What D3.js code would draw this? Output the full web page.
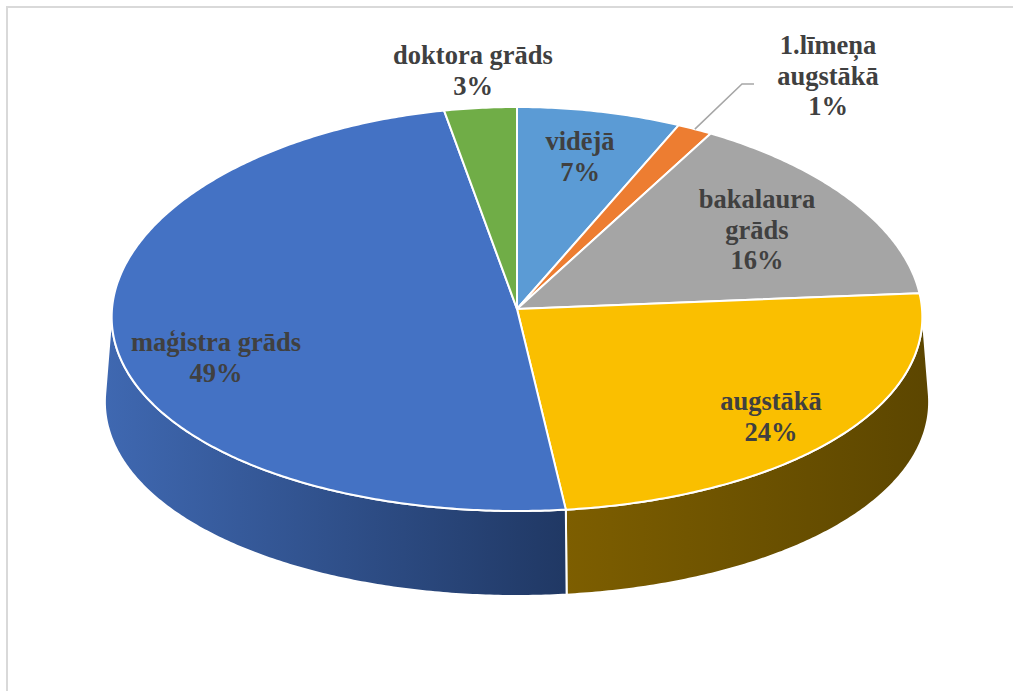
<!DOCTYPE html>
<html>
<head>
<meta charset="utf-8">
<script src="https://cdn.jsdelivr.net/npm/d3@7"></script>
<style>
  html, body { margin: 0; padding: 0; background: #fff; }
  svg { display: block; }
  .lab { font-family: "Liberation Serif", "DejaVu Serif", "Times New Roman", Tinos, serif; font-weight: 700; font-size: 26.5px; fill: #404040; }
</style>
</head>
<body>
<svg id="chart" width="1013" height="691"></svg>
<script>
// ---- data ----
const categories = ["vidējā", "1.līmeņa augstākā", "bakalaura grāds", "augstākā", "maģistra grāds", "doktora grāds"];
const labelLines = [["vidējā"], ["1.līmeņa", "augstākā"], ["bakalaura", "grāds"], ["augstākā"], ["maģistra grāds"], ["doktora grāds"]];
const shares = [6.8, 1.45, 15.5, 24.4, 48.85, 3];

// ---- style / layout ----
const topColors = ["#5B9BD5", "#ED7D31", "#A5A5A5", "#FABF00", "#4472C4", "#70AD47"];
const sideColors = [
  ["#4a80b4", "#2e5a86"], ["#b55f24", "#8a4717"], ["#888888", "#666666"],
  ["#7d5e00", "#5c4600"], ["#3f68b1", "#203864"], ["#5a8c39", "#3d6126"]
];
const labelLayout = [
  { x: 580, y: 150 }, { x: 828, y: 54 }, { x: 757, y: 208 },
  { x: 771, y: 410 }, { x: 216, y: 351 }, { x: 473, y: 64 }
];
const lineHeight = 30.5;
const cx = 517, cy = 309, rx = 405, ry = 202, depth = 85, persp = 0.04;

const svg = d3.select("#chart");

// frame
svg.append("rect").attr("x", 7).attr("y", 7).attr("width", 1030).attr("height", 720)
  .attr("fill", "none").attr("stroke", "#d9d9d9").attr("stroke-width", 2);

const pie = d3.pie().sort(null).value(d => d).startAngle(0).endAngle(2 * Math.PI);
const arcs = pie(shares);

function P(theta, f, z) {
  const ex = rx * f * Math.sin(theta);
  const ey = -ry * f * Math.cos(theta);
  const s = 1 + persp * (ey + z) / ry;
  return [cx + ex * s, cy + ey + z];
}
function arcPts(a0, a1, f, z) {
  const n = Math.max(2, Math.ceil((a1 - a0) / 0.01));
  return d3.range(n + 1).map(i => P(a0 + (a1 - a0) * i / n, f, z));
}
const line = d3.line();
const defs = svg.append("defs");

// side walls (front half only)
const gSide = svg.append("g");
arcs.forEach((a, i) => {
  const s0 = Math.max(a.startAngle, Math.PI / 2);
  const s1 = Math.min(a.endAngle, 3 * Math.PI / 2);
  if (s1 <= s0) return;
  const pts = arcPts(s0, s1, 1, 0).concat(arcPts(s0, s1, 1, depth).reverse());
  const xs = pts.map(p => p[0]);
  const gid = "side" + i;
  const grad = defs.append("linearGradient").attr("id", gid)
    .attr("gradientUnits", "userSpaceOnUse")
    .attr("x1", d3.min(xs)).attr("x2", d3.max(xs)).attr("y1", 0).attr("y2", 0);
  grad.append("stop").attr("offset", 0).attr("stop-color", sideColors[i][0]);
  grad.append("stop").attr("offset", 1).attr("stop-color", sideColors[i][1]);
  gSide.append("path")
    .attr("d", line(pts) + "Z")
    .attr("fill", `url(#${gid})`)
    .attr("stroke", "#fff").attr("stroke-width", 2).attr("stroke-linejoin", "round");
});

// top faces
const gTop = svg.append("g");
arcs.forEach((a, i) => {
  const pts = [[cx, cy]].concat(arcPts(a.startAngle, a.endAngle, 1, 0));
  gTop.append("path")
    .attr("d", line(pts) + "Z")
    .attr("fill", topColors[i])
    .attr("stroke", "#fff").attr("stroke-width", 2).attr("stroke-linejoin", "round");
});

// leader line for the small slice
{
  const i = 1;
  const a = arcs[i];
  const mid = (a.startAngle + a.endAngle) / 2;
  const p0 = P(mid, 1, 0);
  const L = labelLayout[i];
  svg.append("path")
    .attr("d", line([p0, [L.x - 86, L.y + 30], [L.x - 74, L.y + 30]]))
    .attr("fill", "none").attr("stroke", "#a6a6a6").attr("stroke-width", 1.5);
}

// labels
const gLab = svg.append("g").attr("text-anchor", "middle");
arcs.forEach((a, i) => {
  const lines = labelLines[i].concat([Math.round(shares[i]) + "%"]);
  const t = gLab.append("text").attr("class", "lab")
    .attr("x", labelLayout[i].x).attr("y", labelLayout[i].y);
  lines.forEach((s, j) => {
    t.append("tspan").attr("x", labelLayout[i].x)
      .attr("y", labelLayout[i].y + j * lineHeight).text(s);
  });
});
</script>
</body>
</html>
